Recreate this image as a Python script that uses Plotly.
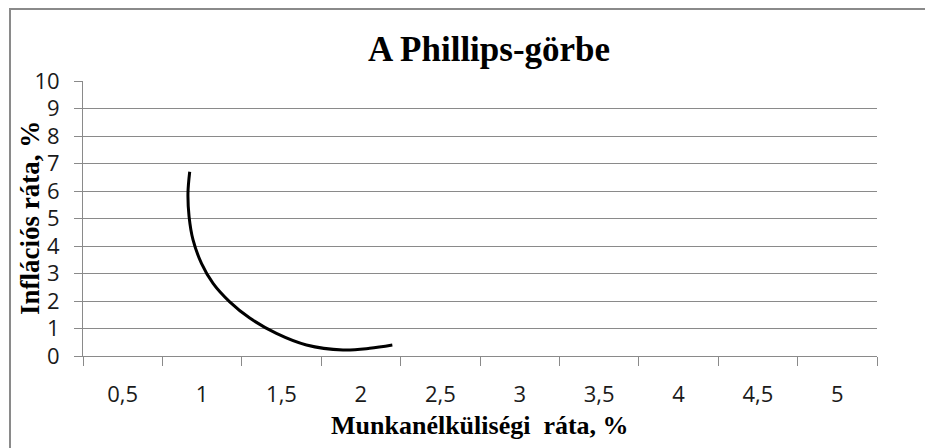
import plotly.graph_objects as go

# Data
unemployment = [0.922, 0.911, 0.918, 0.943, 0.996, 1.069, 1.174, 1.300, 1.468, 1.657, 1.887, 2.055, 2.198]
inflation = [6.70, 5.92, 5.07, 4.22, 3.37, 2.64, 1.97, 1.38, 0.82, 0.40, 0.22, 0.28, 0.40]

x_tick_values = [0.5, 1, 1.5, 2, 2.5, 3, 3.5, 4, 4.5, 5]
x_tick_labels = ["0,5", "1", "1,5", "2", "2,5", "3", "3,5", "4", "4,5", "5"]
y_tick_values = [0, 1, 2, 3, 4, 5, 6, 7, 8, 9, 10]
y_tick_labels = [str(v) for v in y_tick_values]

title_text = "A Phillips-görbe"
x_title = "Munkanélküliségi&nbsp; ráta, %"
y_title = "Inflációs ráta, %"

W, H = 925, 448
L, R, T, B = 83, 48, 81, 92
PW, PH = W - L - R, H - T - B


def px_x(p):
    return (p - L) / PW


def px_y(p):
    return (H - B - p) / PH


GRAY = "#8a8a8a"

fig = go.Figure()
fig.add_trace(go.Scatter(
    x=unemployment, y=inflation, mode="lines",
    line=dict(color="black", width=3, shape="spline", smoothing=1.0),
    hoverinfo="skip", showlegend=False,
))

fig.update_layout(
    width=W, height=H,
    margin=dict(l=L, r=R, t=T, b=B),
    paper_bgcolor="white", plot_bgcolor="white",
    showlegend=False,
    xaxis=dict(
        range=[0.25, 5.25], tickmode="array", tickvals=x_tick_values, ticktext=x_tick_labels,
        ticks="outside", ticklen=19, tickcolor="rgba(0,0,0,0)",
        showgrid=False, zeroline=False,
        showline=True, linecolor=GRAY, linewidth=1,
        tickfont=dict(family="Open Sans", size=22, color="#1a1a1a"),
        minor=dict(tick0=0.25, dtick=0.5, ticks="outside", ticklen=9, tickcolor=GRAY, tickwidth=1, showgrid=False),
        fixedrange=True,
    ),
    yaxis=dict(
        range=[0, 10], tickmode="array", tickvals=y_tick_values, ticktext=y_tick_labels,
        ticks="outside", ticklen=8, tickcolor=GRAY, tickwidth=1,
        showgrid=True, gridcolor=GRAY, gridwidth=1, zeroline=False,
        showline=True, linecolor=GRAY, linewidth=1,
        tickfont=dict(family="Open Sans", size=22, color="#1a1a1a"),
        ticklabelstandoff=10,
        fixedrange=True,
    ),
    shapes=[dict(
        type="rect", xref="paper", yref="paper",
        x0=px_x(10), x1=px_x(W + 10), y0=px_y(H + 10), y1=px_y(9),
        line=dict(color=GRAY, width=2), fillcolor="rgba(0,0,0,0)", layer="above",
    )],
    annotations=[
        dict(text="<b>" + title_text + "</b>", x=px_x(489), y=px_y(50), xref="paper", yref="paper",
             xanchor="center", yanchor="middle", showarrow=False,
             font=dict(family="Liberation Serif", size=35, color="black")),
        dict(text="<b>" + x_title + "</b>", x=px_x(480), y=px_y(425), xref="paper", yref="paper",
             xanchor="center", yanchor="middle", showarrow=False,
             font=dict(family="Liberation Serif", size=26, color="black")),
        dict(text="<b>" + y_title + "</b>", x=px_x(30), y=px_y(218), xref="paper", yref="paper",
             xanchor="center", yanchor="middle", showarrow=False, textangle=-90,
             font=dict(family="Liberation Serif", size=27, color="black")),
    ],
)

fig.write_html("out.html", config={"displayModeBar": False},
               post_script="document.body.style.margin='0';document.body.style.overflow='hidden';")
